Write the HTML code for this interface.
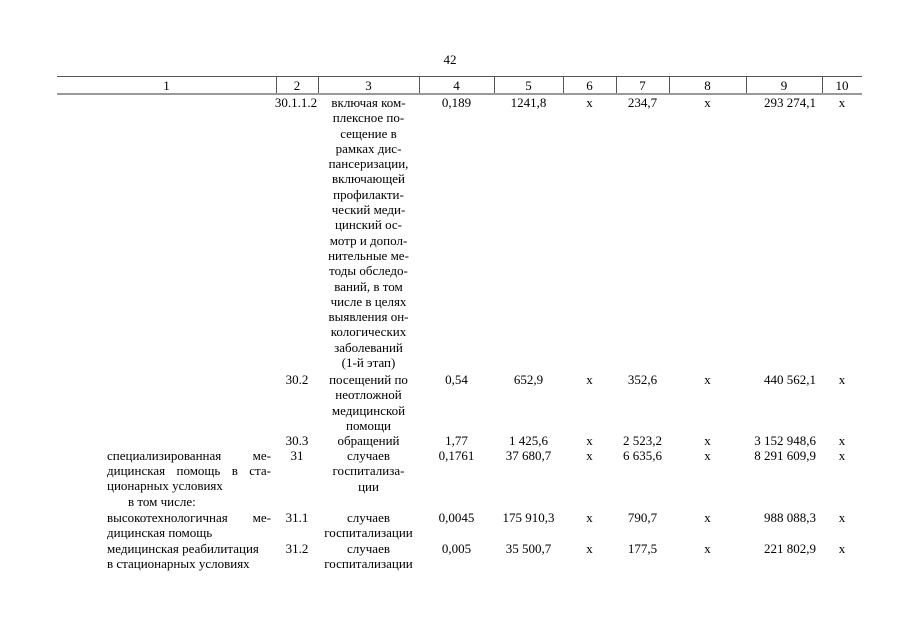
<!DOCTYPE html>
<html><head><meta charset="utf-8"><style>
html,body{margin:0;padding:0;background:#fff;}
body{width:905px;height:640px;position:relative;overflow:hidden;font-family:"Liberation Serif",serif;font-size:13px;color:#000;}
.t{position:absolute;line-height:15.3px;white-space:nowrap;}
.c{text-align:center;}
.r{text-align:right;}
.j{display:flex;justify-content:space-between;}
.h{position:absolute;background:#555;height:1px;}
.v{position:absolute;background:#555;width:1px;top:77px;height:16px;}
</style></head><body>
<div class="t c" style="left:430px;width:40px;top:52px;">42</div>
<div class="h" style="left:57px;width:805px;top:76px;"></div>
<div class="h" style="left:57px;width:805px;top:93px;background:#999;height:2px;"></div>
<div class="v" style="left:276px"></div><div class="v" style="left:318px"></div><div class="v" style="left:419px"></div><div class="v" style="left:494px"></div><div class="v" style="left:563px"></div><div class="v" style="left:616px"></div><div class="v" style="left:669px"></div><div class="v" style="left:746px"></div><div class="v" style="left:822px"></div>
<div class="t c" style="left:57px;width:219px;top:78px;">1</div>
<div class="t c" style="left:276px;width:42px;top:78px;">2</div>
<div class="t c" style="left:318px;width:101px;top:78px;">3</div>
<div class="t c" style="left:419px;width:75px;top:78px;">4</div>
<div class="t c" style="left:494px;width:69px;top:78px;">5</div>
<div class="t c" style="left:563px;width:53px;top:78px;">6</div>
<div class="t c" style="left:616px;width:53px;top:78px;">7</div>
<div class="t c" style="left:669px;width:77px;top:78px;">8</div>
<div class="t c" style="left:746px;width:76px;top:78px;">9</div>
<div class="t c" style="left:822px;width:40px;top:78px;">10</div>

<!-- row 30.1.1.2 -->
<div class="t c" style="left:271px;width:50px;top:95px;">30.1.1.2</div>
<div class="t c" style="left:318px;width:101px;top:95px;">включая ком-<br>плексное по-<br>сещение в<br>рамках дис-<br>пансеризации,<br>включающей<br>профилакти-<br>ческий меди-<br>цинский ос-<br>мотр и допол-<br>нительные ме-<br>тоды обследо-<br>ваний, в том<br>числе в целях<br>выявления он-<br>кологических<br>заболеваний<br>(1-й этап)</div>
<div class="t c" style="left:419px;width:75px;top:95px;">0,189</div>
<div class="t c" style="left:494px;width:69px;top:95px;">1241,8</div>
<div class="t c" style="left:563px;width:53px;top:95px;">x</div>
<div class="t c" style="left:616px;width:53px;top:95px;">234,7</div>
<div class="t c" style="left:669px;width:77px;top:95px;">x</div>
<div class="t r" style="left:740px;width:76px;top:95px;">293 274,1</div>
<div class="t c" style="left:822px;width:40px;top:95px;">x</div>

<!-- 30.2 -->
<div class="t c" style="left:276px;width:42px;top:372px;">30.2</div>
<div class="t c" style="left:318px;width:101px;top:372px;">посещений по<br>неотложной<br>медицинской<br>помощи</div>
<div class="t c" style="left:419px;width:75px;top:372px;">0,54</div>
<div class="t c" style="left:494px;width:69px;top:372px;">652,9</div>
<div class="t c" style="left:563px;width:53px;top:372px;">x</div>
<div class="t c" style="left:616px;width:53px;top:372px;">352,6</div>
<div class="t c" style="left:669px;width:77px;top:372px;">x</div>
<div class="t r" style="left:740px;width:76px;top:372px;">440 562,1</div>
<div class="t c" style="left:822px;width:40px;top:372px;">x</div>

<!-- 30.3 -->
<div class="t c" style="left:276px;width:42px;top:433px;">30.3</div>
<div class="t c" style="left:318px;width:101px;top:433px;">обращений</div>
<div class="t c" style="left:419px;width:75px;top:433px;">1,77</div>
<div class="t c" style="left:494px;width:69px;top:433px;">1 425,6</div>
<div class="t c" style="left:563px;width:53px;top:433px;">x</div>
<div class="t c" style="left:616px;width:53px;top:433px;">2 523,2</div>
<div class="t c" style="left:669px;width:77px;top:433px;">x</div>
<div class="t r" style="left:740px;width:76px;top:433px;">3 152 948,6</div>
<div class="t c" style="left:822px;width:40px;top:433px;">x</div>

<!-- 31 -->
<div class="t j" style="left:107px;width:164px;top:448px;"><span>специализированная</span><span>ме-</span></div>
<div class="t j" style="left:107px;width:164px;top:463px;"><span>дицинская</span><span>помощь</span><span>в</span><span>ста-</span></div>
<div class="t" style="left:107px;top:478px;">ционарных условиях</div>
<div class="t" style="left:128px;top:494px;">в том числе:</div>
<div class="t c" style="left:276px;width:42px;top:448px;">31</div>
<div class="t c" style="left:318px;width:101px;top:448px;">случаев<br>госпитализа-<br>ции</div>
<div class="t c" style="left:419px;width:75px;top:448px;">0,1761</div>
<div class="t c" style="left:494px;width:69px;top:448px;">37 680,7</div>
<div class="t c" style="left:563px;width:53px;top:448px;">x</div>
<div class="t c" style="left:616px;width:53px;top:448px;">6 635,6</div>
<div class="t c" style="left:669px;width:77px;top:448px;">x</div>
<div class="t r" style="left:740px;width:76px;top:448px;">8 291 609,9</div>
<div class="t c" style="left:822px;width:40px;top:448px;">x</div>

<!-- 31.1 -->
<div class="t j" style="left:107px;width:164px;top:510px;"><span>высокотехнологичная</span><span>ме-</span></div>
<div class="t" style="left:107px;top:525px;">дицинская помощь</div>
<div class="t c" style="left:276px;width:42px;top:510px;">31.1</div>
<div class="t c" style="left:318px;width:101px;top:510px;">случаев<br>госпитализации</div>
<div class="t c" style="left:419px;width:75px;top:510px;">0,0045</div>
<div class="t c" style="left:494px;width:69px;top:510px;">175 910,3</div>
<div class="t c" style="left:563px;width:53px;top:510px;">x</div>
<div class="t c" style="left:616px;width:53px;top:510px;">790,7</div>
<div class="t c" style="left:669px;width:77px;top:510px;">x</div>
<div class="t r" style="left:740px;width:76px;top:510px;">988 088,3</div>
<div class="t c" style="left:822px;width:40px;top:510px;">x</div>

<!-- 31.2 -->
<div class="t" style="left:107px;top:541px;">медицинская реабилитация</div>
<div class="t" style="left:107px;top:556px;">в стационарных условиях</div>
<div class="t c" style="left:276px;width:42px;top:541px;">31.2</div>
<div class="t c" style="left:318px;width:101px;top:541px;">случаев<br>госпитализации</div>
<div class="t c" style="left:419px;width:75px;top:541px;">0,005</div>
<div class="t c" style="left:494px;width:69px;top:541px;">35 500,7</div>
<div class="t c" style="left:563px;width:53px;top:541px;">x</div>
<div class="t c" style="left:616px;width:53px;top:541px;">177,5</div>
<div class="t c" style="left:669px;width:77px;top:541px;">x</div>
<div class="t r" style="left:740px;width:76px;top:541px;">221 802,9</div>
<div class="t c" style="left:822px;width:40px;top:541px;">x</div>
</body></html>
